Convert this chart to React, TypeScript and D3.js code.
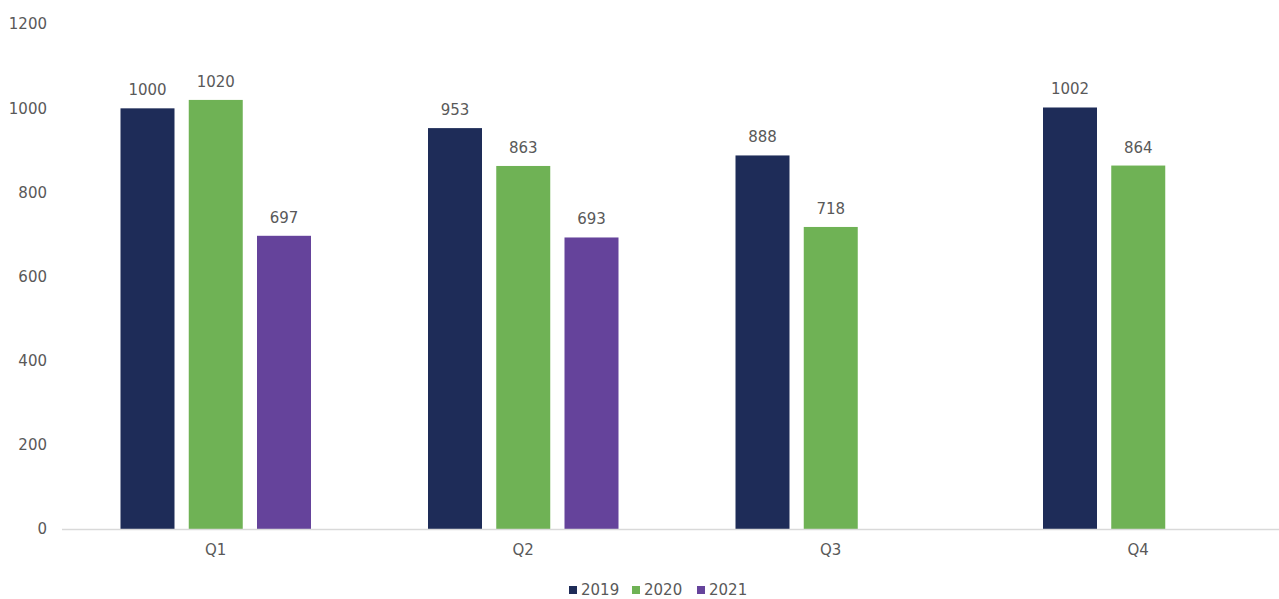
import React from "react";
import * as d3 from "d3";

const categories = ["Q1", "Q2", "Q3", "Q4"];
const seriesNames = ["2019", "2020", "2021"];
const values2019 = [1000, 953, 888, 1002];
const values2020 = [1020, 863, 718, 864];
const values2021: (number | null)[] = [697, 693, null, null];
const yTicks = [0, 200, 400, 600, 800, 1000, 1200];
const colors = ["#1e2c58", "#6fb255", "#65439b"];

const W = 1279;
const H = 599;
const FONT = "'DejaVu Sans', sans-serif";
const TEXT = "#595959";

export default function App() {
  const seriesValues = [values2019, values2020, values2021];
  const x0 = d3
    .scaleBand<string>()
    .domain(categories)
    .range([62, 1292])
    .paddingInner(0.3805)
    .paddingOuter(0.19025);
  const x1 = d3
    .scaleBand<string>()
    .domain(seriesNames)
    .range([0, x0.bandwidth()])
    .paddingInner(0.2088)
    .paddingOuter(0);
  const y = d3.scaleLinear().domain([0, 1200]).range([529, 24.2]);

  const legendX = [569, 632, 697];

  return (
    <svg
      width={W}
      height={H}
      style={{ position: "fixed", left: 0, top: 0, background: "#fff" }}
      fontFamily={FONT}
    >
      {yTicks.map((t) => (
        <text
          key={t}
          x={47}
          y={y(t)}
          dy="0.35em"
          textAnchor="end"
          fontSize={15}
          fill={TEXT}
        >
          {t}
        </text>
      ))}
      {categories.map((c, ci) => (
        <g key={c} transform={`translate(${x0(c)},0)`}>
          {seriesNames.map((s, si) => {
            const v = seriesValues[si][ci];
            if (v == null) return null;
            const bx = x1(s)!;
            return (
              <g key={s}>
                <rect
                  x={bx}
                  y={y(v)}
                  width={x1.bandwidth()}
                  height={y(0) - y(v)}
                  fill={colors[si]}
                />
                <text
                  x={bx + x1.bandwidth() / 2}
                  y={y(v) - 13}
                  textAnchor="middle"
                  fontSize={15}
                  fill={TEXT}
                >
                  {v}
                </text>
              </g>
            );
          })}
        </g>
      ))}
      <line x1={62} x2={1292} y1={529.5} y2={529.5} stroke="#d9d9d9" strokeWidth={1.5} />
      {categories.map((c) => (
        <text
          key={c}
          x={x0(c)! + x0.bandwidth() / 2}
          y={550}
          dy="0.35em"
          textAnchor="middle"
          fontSize={15}
          fill={TEXT}
        >
          {c}
        </text>
      ))}
      {seriesNames.map((s, i) => (
        <g key={s}>
          <rect x={legendX[i]} y={586} width={8} height={8} fill={colors[i]} />
          <text x={legendX[i] + 12} y={590} dy="0.35em" fontSize={15} fill={TEXT}>
            {s}
          </text>
        </g>
      ))}
    </svg>
  );
}
